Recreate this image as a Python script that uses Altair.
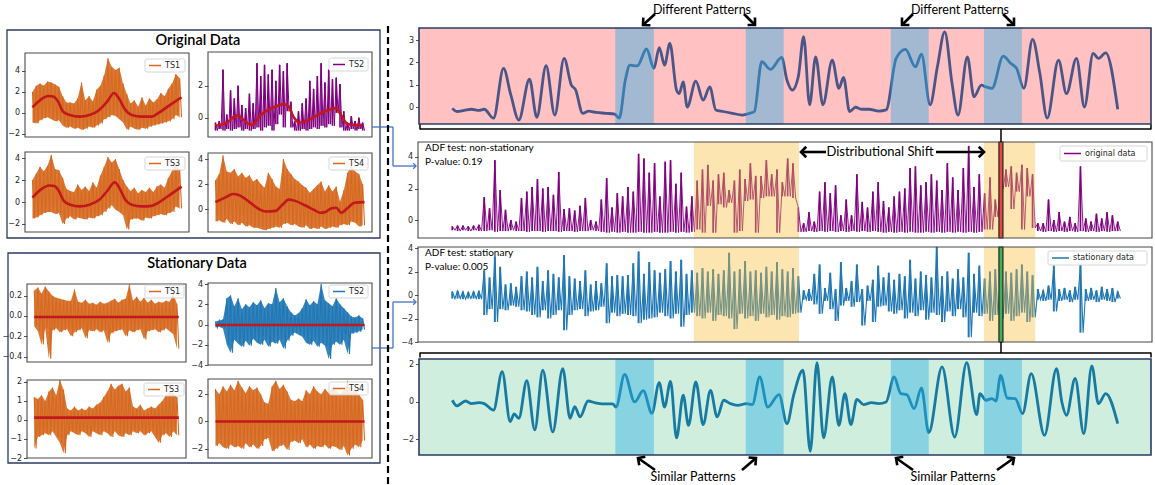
import math
import altair as alt
import pandas as pd

# ---------------------------------------------------------------------------
# Left column: four raw series (upper / lower envelope of the noise, sampled
# alternately) with their smoothed trend, and the same four after differencing.
# ---------------------------------------------------------------------------
ORIG_TS1_HI = [2.0, 2.6, 2.8, 2.6, 3.0, 2.9, 2.7, 2.5, 1.6, 1.0, 1.0, 0.9, 1.4, 2.9, 1.2, 1.6, 1.1, 2.2, 2.6, 3.6,
               5.2, 4.4, 4.1, 4.3, 2.8, 1.8, 0.9, 1.2, 0.6, 1.5, 0.7, 1.4, 1.0, 1.3, 1.9, 1.6, 2.3, 2.8, 3.7, 3.3]
ORIG_TS1_LO = [-0.9, -1.0, -0.7, -0.5, -0.4, -0.6, -0.8, -0.7, -1.2, -1.4, -1.3, -1.5, -1.4, -1.6, -1.5, -1.3, -1.4, -1.2, -1.0, -0.6,
               -0.4, -0.2, -0.3, -0.6, -0.9, -1.6, -1.3, -1.5, -1.6, -1.4, -1.5, -1.3, -1.2, -1.1, -1.0, -0.9, -0.8, -0.6, -0.2, -0.4]
ORIG_TS1_TREND_K = [0, 2.1, 4.2, 5.5, 6.8, 8.1, 9.9, 12.5, 15.1, 17.7, 19.8, 21.6, 22.9, 24.6, 26.3, 28.9, 31.5, 33.2, 35.8, 39.5]
ORIG_TS1_TREND_V = [0.54, 1.24, 1.62, 1.56, 1.08, 0.13, -0.2, -0.35, -0.2, 0.29, 1.08, 1.9, 1.4, 0.29, -0.2, -0.35, -0.35, -0.05, 0.6, 1.5]

ORIG_TS2_HI = [-0.3, -0.2, 3.0, 0.2, 1.7, 1.2, 2.0, 0.8, 0.6, 1.5, 0.9, 3.4, 2.6, 3.3, 2.7, 3.0, 2.3, 3.3, 2.9, 3.4,
               1.0, -0.2, 0.4, 0.9, 1.2, 2.3, 1.8, 2.6, 3.4, 2.2, 3.0, 2.4, 2.5, 2.1, 0.4, -0.3, 0.1, -0.2, 0.0, -0.3]
ORIG_TS2_LO = [-0.8, -0.7, -0.8, -0.7, -0.8, -0.7, -0.6, -0.8, -0.7, -0.8, -0.7, -0.6, -0.8, -0.6, -0.5, -0.8, -0.4, 0.2, -0.6, 0.4,
               -0.6, -0.8, -0.8, -0.7, -0.8, -0.7, -0.6, -0.7, -0.5, -0.6, -0.4, -0.5, 0.3, -0.6, -0.8, -0.8, -0.7, -0.8, -0.7, -0.8]
ORIG_TS2_TREND_K = [0, 3.0, 5.8, 8.5, 9.8, 11.5, 13.3, 15.9, 18.1, 19.4, 20.7, 22.4, 24.6, 27.2, 30.7, 32.0, 33.3, 35.1, 39.0]
ORIG_TS2_TREND_V = [-0.5, -0.3, 0.15, -0.35, -0.45, 0.05, 0.4, 0.7, 0.85, 0.7, 0.05, -0.3, -0.15, 0.2, 0.55, 0.6, 0.15, -0.4, -0.45]

ORIG_TS3_HI = [2.0, 2.6, 3.2, 2.8, 3.3, 4.3, 3.0, 2.9, 2.2, 1.2, 1.0, 0.9, 1.6, 1.1, 1.4, 1.0, 1.8, 1.3, 2.4, 3.2,
               4.1, 3.6, 3.9, 3.0, 2.0, 1.4, 1.0, 1.3, 0.8, 1.1, 0.9, 1.3, 0.9, 1.4, 1.6, 1.3, 2.2, 2.8, 3.5, 3.0]
ORIG_TS3_LO = [-1.5, -1.4, -1.2, -1.0, -0.9, -0.9, -1.1, -1.0, -2.0, -1.5, -1.3, -1.6, -1.4, -1.5, -1.6, -1.4, -1.5, -1.3, -1.2, -0.9,
               -0.6, -0.3, -0.7, -0.9, -1.2, -2.5, -1.6, -1.5, -1.5, -1.7, -1.4, -1.5, -1.3, -1.2, -1.1, -1.2, -1.0, -0.9, -0.4, -0.6]
ORIG_TS3_TREND_K = [0, 2.1, 4.5, 5.8, 7.0, 8.3, 10.0, 12.5, 15.1, 17.7, 19.8, 21.8, 23.0, 24.6, 26.3, 28.9, 31.5, 33.2, 35.8, 39.5]
ORIG_TS3_TREND_V = [0.4, 1.1, 1.5, 1.45, 1.0, 0.1, -0.25, -0.4, -0.25, 0.2, 1.0, 1.8, 1.3, 0.2, -0.25, -0.4, -0.35, -0.1, 0.5, 1.4]

ORIG_TS4_HI = [2.3, 2.8, 4.3, 3.0, 2.9, 3.2, 2.6, 2.9, 2.5, 2.7, 2.2, 2.4, 2.0, 1.7, 2.9, 2.4, 1.8, 1.6, 4.0, 3.2,
               2.8, 2.4, 2.2, 1.9, 1.7, 1.3, 1.6, 1.9, 2.2, 1.4, 1.9, 1.4, 1.8, 0.6, 1.5, 2.9, 3.5, 3.0, 2.8, 2.0]
ORIG_TS4_LO = [-1.0, -0.9, -1.1, -0.8, -1.2, -1.0, -1.3, -1.1, -1.4, -1.3, -1.5, -1.5, -1.6, -1.7, -1.6, -1.5, -1.4, -1.5, -1.2, -1.1,
               -1.3, -1.2, -1.4, -1.5, -1.3, -1.6, -1.5, -1.6, -1.4, -1.6, -1.5, -1.4, -1.5, -1.3, -1.2, -1.3, -1.0, -1.1, -1.4, -1.3]
ORIG_TS4_TREND_K = [0, 2.8, 4.6, 6.3, 9.0, 11.5, 13.3, 15.9, 17.6, 19.4, 21.1, 23.7, 26.3, 27.7, 29.0, 30.7, 32.0, 33.3, 35.1, 36.8, 39.5]
ORIG_TS4_TREND_V = [0.55, 0.95, 1.2, 1.1, 0.55, 0.0, -0.2, -0.15, 0.3, 0.75, 0.65, 0.3, -0.1, -0.3, -0.25, 0.05, 0.1, -0.3, 0.1, 0.5, 0.55]

STAT_TS1_HI = [0.25, 0.28, 0.22, 0.29, 0.24, 0.20, 0.18, 0.17, 0.16, 0.15, 0.15, 0.26, 0.14, 0.13, 0.16, 0.12, 0.13, 0.11, 0.14, 0.12,
               0.13, 0.15, 0.17, 0.13, 0.16, 0.17, 0.31, 0.15, 0.19, 0.14, 0.18, 0.13, 0.16, 0.12, 0.14, 0.13, 0.15, 0.14, 0.22, 0.12]
STAT_TS1_LO = [-0.10, -0.15, -0.28, -0.12, -0.42, -0.14, -0.12, -0.16, -0.14, -0.13, -0.20, -0.16, -0.14, -0.12, -0.22, -0.14, -0.15, -0.13, -0.16, -0.14,
               -0.26, -0.17, -0.15, -0.14, -0.13, -0.20, -0.14, -0.16, -0.14, -0.13, -0.23, -0.15, -0.14, -0.13, -0.16, -0.14, -0.12, -0.15, -0.18, -0.32]
STAT_TS1_MEAN = -0.01

STAT_TS2_HI = [0.3, 0.4, 0.5, 2.6, 2.9, 1.8, 2.6, 1.5, 2.0, 1.7, 2.2, 1.9, 2.4, 1.6, 2.1, 2.0, 3.6, 2.2, 2.6, 1.8,
               1.2, 0.9, 1.1, 1.6, 2.5, 1.9, 2.3, 2.0, 4.0, 2.4, 2.1, 1.8, 2.6, 2.0, 1.6, 1.2, 0.8, 0.7, 0.9, 0.6]
STAT_TS2_LO = [-0.3, -0.2, -0.4, -2.0, -2.8, -1.5, -1.9, -2.2, -1.6, -2.1, -1.4, -1.8, -2.0, -1.5, -2.2, -1.7, -1.9, -1.5, -2.4, -1.6,
               -1.1, -0.8, -1.0, -1.2, -1.8, -2.0, -1.6, -2.2, -1.8, -2.1, -3.4, -2.0, -1.7, -2.0, -1.5, -2.9, -0.9, -0.8, -0.7, -0.5]
STAT_TS2_MEAN = -0.05

STAT_TS3_HI = [1.2, 1.1, 1.3, 1.0, 1.5, 1.7, 1.3, 2.1, 1.6, 0.6, 0.5, 0.7, 0.5, 0.6, 0.5, 0.7, 0.6, 0.8, 0.9, 1.2,
               1.5, 1.9, 1.6, 1.8, 1.9, 1.5, 1.7, 0.7, 0.6, 0.8, 0.5, 0.6, 0.7, 0.6, 0.8, 1.0, 1.3, 1.5, 1.4, 1.2]
STAT_TS3_LO = [-1.5, -0.9, -0.8, -0.7, -0.8, -0.6, -0.9, -1.2, -1.75, -0.8, -0.6, -0.7, -0.8, -0.6, -0.7, -0.9, -0.6, -0.7, -0.8, -0.6,
               -0.7, -0.9, -0.6, -0.8, -0.9, -0.7, -0.8, -0.6, -0.7, -0.6, -0.8, -0.7, -0.6, -0.9, -1.2, -0.8, -0.7, -0.9, -0.6, -0.8]
STAT_TS3_MEAN = 0.12

STAT_TS4_HI = [2.4, 2.0, 2.6, 2.2, 2.7, 2.3, 3.0, 2.5, 2.1, 2.6, 2.3, 2.5, 2.0, 1.4, 1.3, 2.6, 3.0, 2.4, 2.7, 2.2,
               1.6, 1.5, 1.7, 1.5, 2.3, 2.0, 2.6, 2.2, 2.0, 2.4, 2.1, 2.5, 2.2, 2.0, 2.3, 3.0, 2.1, 2.4, 2.0, 1.6]
STAT_TS4_LO = [-1.8, -1.6, -1.9, -2.0, -1.7, -1.9, -1.8, -2.0, -1.6, -1.9, -1.7, -2.0, -1.8, -1.3, -1.2, -2.2, -2.0, -1.8, -1.7, -2.1,
               -1.5, -1.4, -1.6, -1.3, -1.9, -1.7, -2.0, -1.8, -1.9, -1.7, -2.0, -1.8, -1.9, -2.1, -1.8, -2.5, -2.0, -1.7, -1.9, -1.4]
STAT_TS4_MEAN = 0.0

# ---------------------------------------------------------------------------
# Right column: one long series (time steps 0..1000)
# ---------------------------------------------------------------------------
# raw series, envelope pairs every 8 steps
RAW_HI = [-0.4, -0.35, -0.35, -0.4, -0.35, -0.3, 1.45, 0.75, 3.8, 1.9,
          0.65, 0.0, -0.1, 1.4, 1.8, 2.1, 2.6, 2.0, 2.1, 1.6,
          3.05, 0.7, 0.75, 0.6, 0.9, 1.4, 0.0, -0.1, 1.3, 2.65,
          0.8, 1.7, 1.5, 2.1, 1.8, 4.2, 3.9, 3.0, 3.6, 1.5,
          3.7, 3.8, 2.3, 3.0, 0.85, 1.5, 2.5, 3.2, 3.5, 2.5,
          2.9, 3.0, 1.9, 2.5, 3.2, 2.6, 3.6, 2.8, 2.8, 3.8,
          2.9, 3.2, 2.4, 3.9, 3.6, 0.8, -0.2, 0.5, -0.1, 1.8,
          2.4, 1.7, 2.2, 0.3, 1.3, 0.3, 2.9, 1.15, 0.8, 1.8,
          2.4, 1.2, 0.8, 1.5, 1.8, 2.0, 3.3, 3.4, 2.2, 2.4,
          2.9, 2.5, 1.9, 3.6, 2.7, 1.9, 3.3, 4.7, 2.1, 2.9,
          1.7, 2.7, 1.3, 2.7, 3.2, 3.4, 3.0, 3.5, 3.3, 2.9,
          -0.2, -0.2, 1.3, 0.0, 0.5, -0.1, 0.2, -0.2, 3.4, 0.1,
          -0.1, 0.4, 0.1, 0.5, 0.3, -0.1]
RAW_LO = [-0.65, -0.7, -0.65, -0.7, -0.65, -0.7, -0.7, -0.65, -0.75, -0.7,
          -0.7, -0.65, -0.7, -0.7, -0.75, -0.7, -0.7, -0.75, -0.7, -0.7,
          -0.75, -0.7, -0.7, -0.75, -0.7, -0.7, -0.65, -0.7, -0.75, -0.8,
          -0.75, -0.8, -0.75, -0.8, -0.8, -0.75, -0.8, -0.8, -0.75, -0.8,
          -0.8, -0.75, -0.8, -0.75, -0.8, -0.75, -0.6, -0.8, 0.9, -0.8,
          1.0, 0.8, 1.1, -0.8, -0.7, 1.2, 1.3, -0.8, 1.4, 1.5,
          1.5, -0.8, 1.5, 1.5, 1.4, -0.75, -0.75, -0.7, -0.75, -0.7,
          -0.75, -0.7, -0.75, -0.7, -0.75, -0.7, -0.75, -0.7, -0.75, -0.7,
          -0.75, -0.8, -0.75, -0.8, -0.75, -0.8, -0.75, -0.8, -0.8, -0.75,
          -0.8, -0.75, -0.8, -0.75, -0.8, -0.75, -0.8, -0.75, -0.8, -0.75,
          -0.6, -0.6, 0.2, 2.0, 2.1, 0.7, 1.8, -0.6, 1.5, -0.5,
          -0.7, -0.75, -0.7, -0.75, -0.7, -0.75, -0.7, -0.75, -0.7, -0.75,
          -0.7, -0.75, -0.7, -0.75, -0.7, -0.7]

# differenced series, envelope pairs every 8 steps
DIFF_HI = [0.3, 0.35, 0.3, 0.25, 0.3, 0.35, 2.1, 1.5, 3.3, 2.4,
           0.9, 1.0, 0.7, 1.6, 2.0, 1.5, 2.4, 1.2, 2.1, 1.8,
           1.5, 3.4, 1.6, 1.4, 1.2, 2.1, 0.9, 1.2, 1.0, 2.7,
           1.6, 1.7, 1.6, 1.7, 2.7, 3.7, 1.8, 2.8, 2.1, 1.9,
           2.2, 2.9, 2.0, 3.0, 1.8, 2.1, 1.9, 2.3, 2.0, 2.2,
           1.8, 2.1, 3.6, 2.0, 2.2, 2.9, 2.0, 2.1, 1.9, 2.4,
           2.0, 2.8, 2.2, 2.0, 2.3, 1.6, 0.4, 0.5, 1.8, 2.6,
           0.6, 1.9, 0.5, 2.8, 0.6, 1.2, 2.6, 0.5, 0.8, 1.3,
           2.5, 1.5, 1.9, 1.3, 1.8, 1.6, 3.0, 1.4, 2.0, 1.7,
           1.5, 4.1, 1.6, 2.0, 1.4, 2.2, 1.5, 3.6, 1.8, 2.5,
           1.4, 2.0, 2.2, 1.8, 2.0, 1.9, 2.2, 2.6, 2.0, 1.7,
           0.5, 0.4, 0.8, 2.5, 0.5, 0.6, 0.4, 0.7, 2.6, 0.5,
           0.6, 0.4, 0.7, 0.5, 0.6, 0.3]
DIFF_LO = [-0.3, -0.3, -0.35, -0.3, -0.3, -0.35, -1.7, -1.2, -2.3, -1.2,
           -1.3, -0.9, -1.0, -1.3, -1.4, -1.7, -1.9, -1.3, -2.0, -1.7,
           -1.3, -3.0, -1.7, -1.3, -1.2, -1.8, -1.4, -1.3, -1.0, -2.4,
           -1.5, -1.8, -1.6, -1.7, -1.8, -2.4, -2.1, -2.0, -1.9, -1.5,
           -1.8, -2.0, -1.6, -2.7, -1.7, -1.5, -1.8, -2.0, -1.5, -2.2,
           -1.7, -1.8, -2.0, -2.9, -1.6, -2.0, -1.8, -2.2, -1.6, -1.9,
           -1.7, -2.1, -1.8, -1.9, -1.6, -1.5, -0.4, -0.5, -0.8, -1.6,
           -0.5, -1.2, -2.2, -0.9, -0.5, -1.0, -0.6, -2.6, -0.5, -2.3,
           -1.0, -0.9, -1.4, -1.6, -1.3, -2.0, -1.5, -1.8, -1.3, -2.1,
           -1.5, -1.7, -2.3, -1.4, -1.8, -1.2, -1.9, -3.6, -1.5, -1.8,
           -1.6, -2.2, -1.7, -2.0, -1.6, -2.2, -1.8, -1.5, -2.3, -1.9,
           -0.4, -0.5, -0.4, -1.4, -0.5, -0.4, -0.6, -0.4, -3.2, -0.5,
           -0.4, -0.6, -0.4, -0.5, -0.6, -0.3]

# smoothed window view of the raw series
RAW_SMOOTH_T = [0, 7, 18, 29, 40, 48, 62, 77, 88, 100, 116, 127, 141, 154, 168, 179, 185, 196, 205, 216,
                231, 244, 251, 260, 267, 278, 292, 303, 311, 319, 327, 337, 341, 347, 353, 366, 377, 387, 396, 407,
                421, 436, 447, 454, 465, 478, 495, 503, 511, 520, 528, 537, 546, 557, 571, 581, 588, 597, 606, 615,
                626, 641, 652, 667, 681, 696, 705, 718, 729, 740, 751, 760, 774, 784, 795, 802, 811, 828, 839, 848,
                859, 872, 883, 894, 911, 923, 938, 950, 963, 971, 982, 1000]
RAW_SMOOTH_V = [-0.06, -0.2, -0.15, -0.1, -0.15, -0.1, -0.5, 1.73, 0.54, -0.58, 1.25, -0.46, 1.85, -0.36, 2.18, 0.98, 0.79, -0.28, -0.18, -0.24,
                -0.28, -0.32, -0.5, 1.2, 1.88, 1.84, 2.6, 1.73, 2.66, 1.88, 2.85, 0.76, 0.6, 1.13, 0.0, 1.16, 0.31, 0.9, -0.13, -0.2,
                -0.28, -0.36, -0.28, -0.2, 2.03, 1.69, 2.22, 1.2, 0.76, 1.36, 3.15, 0.1, 2.25, 0.1, 2.1, 0.84, 1.33, -0.2, -0.01, -0.1,
                -0.1, -0.18, -0.13, 2.18, 2.58, 1.8, 2.37, 0.1, 1.8, 3.37, 1.06, -0.36, 2.25, 0.46, 0.98, 0.9, 0.84, 2.28, 1.96, 1.73,
                0.84, 3.03, 1.5, -0.5, 2.1, 0.6, 2.18, 0.0, 2.4, 2.18, 2.43, -0.1]

# smoothed window view of the differenced series
DIFF_SMOOTH_T = [0, 7, 20, 29, 40, 48, 62, 75, 87, 93, 100, 112, 124, 136, 151, 166, 177, 184, 192, 204,
                 215, 226, 241, 246, 259, 274, 287, 300, 311, 319, 328, 337, 347, 355, 366, 377, 388, 398, 408, 418,
                 429, 442, 451, 462, 474, 491, 503, 513, 527, 538, 548, 558, 571, 581, 590, 599, 608, 618, 630, 641,
                 652, 664, 674, 683, 694, 705, 716, 736, 755, 773, 788, 793, 802, 811, 817, 824, 834, 846, 857, 870,
                 890, 908, 916, 923, 936, 949, 961, 971, 982, 1000]
DIFF_SMOOTH_V = [0.09, -0.21, 0.05, -0.09, -0.04, -0.09, -0.44, 1.62, -1.05, -0.64, -0.87, 1.13, -1.49, 1.69, -1.6, 1.78, -0.87, -0.25, -0.8, 0.05,
                 -0.05, -0.1, -0.1, -0.27, 1.47, 0.0, 0.6, -0.6, 1.03, -0.27, 1.1, -1.92, 0.36, -1.25, 1.07, -1.21, 0.62, -0.8, 0.09, -0.09,
                 -0.18, -0.09, -0.14, 1.33, -0.27, 0.39, -1.16, 0.36, 1.69, -2.63, 2.1, -1.92, 1.33, -1.25, 0.44, -1.21, 0.14, -0.14, -0.04, -0.09,
                 0.0, 1.33, 0.44, 0.39, -0.36, 0.75, -1.64, 1.87, -1.87, 2.1, -0.68, 0.44, 0.09, 0.18, 0.05, 1.42, 0.21, 0.18, -0.62, 1.51,
                 -1.78, 1.78, 0.0, -0.71, 1.25, -1.69, 1.92, -0.09, 0.44, -1.16]

# highlighted windows (time steps)
WINDOW_START = [245, 441, 659, 799]
WINDOW_END = [303, 498, 716, 856]
SHIFT_START = [363, 799]
SHIFT_END = [521, 876]
CURRENT_START = [821.5]
CURRENT_END = [827.5]

# ---------------------------------------------------------------------------
W, H = 1155, 485
DUMMY = alt.Data(values=[{}])
INK = "#262626"
ORANGE = "#d6691f"
TREND_RED = "#c0181c"
PURPLE = "#800080"
BLUE = "#1f77b4"
CONNECT = "#4472c4"
NAVY = "#2c3b62"
MINUS = "replace(datum.label, '-', '\u2212')"
T_DOMAIN = [-50, 1050]
T_RANGE = [419, 1151]


def y_axis(x0, ticks, fmt="d", size=8):
    return alt.Axis(orient="left", offset=-x0, values=ticks, format=fmt, labelExpr=MINUS,
                    grid=False, domain=False, tickSize=3.5, tickWidth=0.8, tickColor=INK,
                    labelColor=INK, labelFont="DejaVu Sans", labelFontSize=size,
                    labelPadding=2, title=None)


def box(x0, y0, x1, y1, stroke, width=1.0, fill="white", fill_opacity=0.0, radius=0):
    kw = dict(fill=fill, fillOpacity=fill_opacity, stroke=stroke, strokeWidth=width)
    if radius:
        kw["cornerRadius"] = radius
    return alt.Chart(DUMMY).mark_rect(**kw).encode(
        x=alt.value(x0), x2=alt.value(x1), y=alt.value(y0), y2=alt.value(y1))


def fill_box(x0, y0, x1, y1, color):
    return alt.Chart(DUMMY).mark_rect(fill=color, strokeWidth=0).encode(
        x=alt.value(x0), x2=alt.value(x1), y=alt.value(y0), y2=alt.value(y1))


def seg(x0, y0, x1, y1, color="black", width=1.5, dash=None):
    kw = dict(color=color, strokeWidth=width)
    if dash:
        kw["strokeDash"] = dash
    return alt.Chart(DUMMY).mark_rule(**kw).encode(
        x=alt.value(x0), y=alt.value(y0), x2=alt.value(x1), y2=alt.value(y1))


def label(x, y, text, size=10, font="Lato", weight="normal", align="left", color="black"):
    return alt.Chart(DUMMY).mark_text(text=text, font=font, fontSize=size, fontWeight=weight,
                                      align=align, baseline="middle", color=color).encode(
        x=alt.value(x), y=alt.value(y))


CHEVRON = "M-1,-1L0,0L-1,1"


def arrow(x0, y0, x1, y1, color="black", width=2.6, head=110):
    ang = math.degrees(math.atan2(y1 - y0, x1 - x0)) % 360
    tip = alt.Chart(DUMMY).mark_point(shape=CHEVRON, filled=False, color=color, strokeWidth=width,
                                      size=head, angle=ang, opacity=1, strokeJoin="miter").encode(
        x=alt.value(x1), y=alt.value(y1))
    return [seg(x0, y0, x1, y1, color, width), tip]


def legend(x0, y0, x1, y1, color, text, size=8, swatch=12):
    ym = (y0 + y1) / 2
    return [box(x0, y0, x1, y1, "#cccccc", 0.8, "white", 0.85, 2),
            seg(x0 + 4, ym, x0 + 4 + swatch, ym, color, 1.5),
            label(x0 + swatch + 8, ym, text, size, "DejaVu Sans", color=INK)]


def zigzag(hi, lo, step):
    xs, ys = [], []
    for k, (a, b) in enumerate(zip(hi, lo)):
        xs += [k * step, k * step + step / 2]
        ys += [a, b]
    return pd.DataFrame({"x": xs, "y": ys})


def spikes(hi, lo, step):
    return pd.DataFrame({"x": [k * step for k in range(len(hi))], "y": hi, "y2": lo})


def noise_layers(hi, lo, step, color, X, Y, line_w=0.8, rule_w=1.6):
    """Dense noisy trace: thin zig-zag through the envelope plus one spike per sample."""
    return [alt.Chart(zigzag(hi, lo, step)).mark_line(color=color, strokeWidth=line_w).encode(x=X, y=Y),
            alt.Chart(spikes(hi, lo, step)).mark_rule(color=color, strokeWidth=rule_w).encode(x=X, y=Y, y2="y2:Q")]


def small_panel(hi, lo, tk, tv, color, frame, ydom, ticks, fmt="d", filled=True):
    x0, y0, x1, y1 = frame
    span = len(hi) - 0.5
    X = alt.X("x:Q", scale=alt.Scale(domain=[-0.05 * span, 1.05 * span], range=[x0, x1], nice=False, zero=False), axis=None)
    Y = alt.Y("y:Q", scale=alt.Scale(domain=ydom, range=[y1, y0], nice=False, zero=False), axis=y_axis(x0, ticks, fmt))
    parts = []
    if filled:
        parts.append(alt.Chart(spikes(hi, lo, 1)).mark_area(color=color, opacity=0.9).encode(x=X, y=Y, y2="y2:Q"))
        parts.append(alt.Chart(zigzag(hi, lo, 1)).mark_line(color=color, strokeWidth=1.1).encode(x=X, y=Y))
    else:
        parts += noise_layers(hi, lo, 1, color, X, Y, 1.0, 1.6)
    parts.append(alt.Chart(pd.DataFrame({"x": tk, "y": tv})).mark_line(
        color=TREND_RED, strokeWidth=2.6, interpolate="monotone").encode(x=X, y=Y))
    return [alt.layer(*parts), box(x0, y0, x1, y1, "#4a4a4a", 1.1)]


def t_x(field="x"):
    return alt.X(f"{field}:Q", scale=alt.Scale(domain=T_DOMAIN, range=T_RANGE, nice=False, zero=False), axis=None)


def pattern_panel(tt, vv, bg, line_color, frame, ydom, ticks):
    x0, y0, x1, y1 = frame
    Y = alt.Y("y:Q", scale=alt.Scale(domain=ydom, range=[y1, y0], nice=False, zero=False), axis=y_axis(x0, ticks))
    line = alt.Chart(pd.DataFrame({"x": tt, "y": vv})).mark_line(
        color=line_color, strokeWidth=2.8, interpolate="monotone").encode(x=t_x(), y=Y)
    windows = alt.Chart(pd.DataFrame({"x": WINDOW_START, "x2": WINDOW_END})).mark_rect(
        color="#24ade6", opacity=0.42).encode(x=t_x(), x2="x2:Q", y=alt.value(y0), y2=alt.value(y1))
    return [fill_box(x0, y0, x1, y1, bg), alt.layer(line, windows), box(x0, y0, x1, y1, NAVY, 1.6)]


def adf_panel(hi, lo, color, frame, ydom, ticks, marker_fill, line_w, rule_w):
    x0, y0, x1, y1 = frame
    Y = alt.Y("y:Q", scale=alt.Scale(domain=ydom, range=[y1, y0], nice=False, zero=False), axis=y_axis(x0, ticks))
    trace = noise_layers(hi, lo, 8, color, t_x(), Y, line_w, rule_w)
    shift = alt.Chart(pd.DataFrame({"x": SHIFT_START, "x2": SHIFT_END})).mark_rect(
        color="#fabe3c", opacity=0.4).encode(x=t_x(), x2="x2:Q", y=alt.value(y0), y2=alt.value(y1))
    marker = alt.Chart(pd.DataFrame({"x": CURRENT_START, "x2": CURRENT_END})).mark_rect(
        fill=marker_fill, stroke="#222222", strokeWidth=1.2).encode(
        x=t_x(), x2="x2:Q", y=alt.value(y0), y2=alt.value(y1))
    return [alt.layer(*trace, shift, marker), box(x0, y0, x1, y1, "#4a4a4a", 1.1)]


layers = []

# ---- left column -----------------------------------------------------------
layers.append(box(7, 30, 380, 238, NAVY, 1.3))
layers.append(box(8, 253, 380, 463, NAVY, 1.3))
layers.append(label(198, 41, "Original Data", 14.5, weight=600, align="center"))
layers.append(label(197, 264, "Stationary Data", 14.5, weight=600, align="center"))

layers += small_panel(ORIG_TS1_HI, ORIG_TS1_LO, ORIG_TS1_TREND_K, ORIG_TS1_TREND_V, ORANGE,
                      (25, 53, 189, 137), [-2.29, 5.71], [-2, 0, 2, 4])
layers += small_panel(ORIG_TS2_HI, ORIG_TS2_LO, ORIG_TS2_TREND_K, ORIG_TS2_TREND_V, PURPLE,
                      (208, 52, 372, 137), [-1.2, 4.1], [0, 2], filled=False)
layers += small_panel(ORIG_TS3_HI, ORIG_TS3_LO, ORIG_TS3_TREND_K, ORIG_TS3_TREND_V, ORANGE,
                      (25, 152, 189, 232), [-2.73, 4.55], [-2, 0, 2, 4])
layers += small_panel(ORIG_TS4_HI, ORIG_TS4_LO, ORIG_TS4_TREND_K, ORIG_TS4_TREND_V, ORANGE,
                      (208, 153, 372, 232), [-1.84, 4.48], [0, 2, 4])

ends = [0, 39.5]
layers += small_panel(STAT_TS1_HI, STAT_TS1_LO, ends, [STAT_TS1_MEAN] * 2, ORANGE,
                      (27, 284, 186, 362), [-0.453, 0.315], [-0.4, -0.2, 0.0, 0.2], ".1f")
layers += small_panel(STAT_TS2_HI, STAT_TS2_LO, ends, [STAT_TS2_MEAN] * 2, BLUE,
                      (208, 283, 372, 365), [-4.0, 4.1], [-4, -2, 0, 2, 4])
layers += small_panel(STAT_TS3_HI, STAT_TS3_LO, ends, [STAT_TS3_MEAN] * 2, ORANGE,
                      (27, 380, 186, 458), [-2.0, 2.1], [-2, -1, 0, 1, 2])
layers += small_panel(STAT_TS4_HI, STAT_TS4_LO, ends, [STAT_TS4_MEAN] * 2, ORANGE,
                      (208, 379, 372, 458), [-2.69, 3.13], [-2, 0, 2])

layers += legend(145, 59, 185, 72, ORANGE, "TS1")
layers += legend(329, 58, 368, 71, PURPLE, "TS2")
layers += legend(145, 157, 185, 170, ORANGE, "TS3")
layers += legend(329, 157, 368, 170, ORANGE, "TS4")
layers += legend(145, 285, 184, 298, ORANGE, "TS1")
layers += legend(329, 285, 368, 298, BLUE, "TS2")
layers += legend(144, 383, 184, 396, ORANGE, "TS3")
layers += legend(329, 382, 368, 395, ORANGE, "TS4")

# ---- right column ----------------------------------------------------------
layers += pattern_panel(RAW_SMOOTH_T, RAW_SMOOTH_V, "#ffc1c1", "#4a5688",
                        (419, 28, 1151, 124), [-0.76, 3.54], [0, 1, 2, 3])
layers += adf_panel(RAW_HI, RAW_LO, PURPLE, (418, 142, 1152, 238), [-1.14, 4.95], [0, 2, 4], "#e8473d", 0.9, 1.7)
layers += adf_panel(DIFF_HI, DIFF_LO, BLUE, (418, 247, 1152, 342), [-4.0, 4.09], [-4, -2, 0, 2, 4], "#3cb35b", 1.1, 2.0)
layers += pattern_panel(DIFF_SMOOTH_T, DIFF_SMOOTH_V, "#cfeedd", "#177aa2",
                        (419, 359, 1151, 455), [-2.83, 2.29], [-2, 0, 2])

layers.append(label(425, 148, "ADF test: non-stationary", 10))
layers.append(label(425, 162, "P-value: 0.19", 10))
layers.append(label(425, 253, "ADF test: stationary", 10))
layers.append(label(425, 267, "P-value: 0.005", 10))
layers += legend(1060, 146, 1147, 161, PURPLE, "original data", 8, 17)
layers += legend(1048, 251, 1147, 265, BLUE, "stationary data", 8, 17)

# brackets linking the window to the detailed views
layers += [seg(420, 129, 1151, 129), seg(420, 124.5, 420, 129.5), seg(1151, 124.5, 1151, 129.5),
           seg(1001, 129, 1001, 142)]
layers += [seg(420, 353, 1151, 353), seg(420, 352.5, 420, 357.5), seg(1151, 352.5, 1151, 357.5),
           seg(1001, 342, 1001, 353)]

# connectors from the left column
layers += [seg(372, 127, 393, 127, CONNECT, 1.3), seg(393, 127, 393, 166, CONNECT, 1.3)]
layers += arrow(393, 166, 416, 166, CONNECT, 1.3, 30)
layers += [seg(372, 348, 393, 348, CONNECT, 1.3), seg(393, 348, 393, 302, CONNECT, 1.3)]
layers += arrow(393, 302, 416, 302, CONNECT, 1.3, 30)

# column separator
layers.append(seg(388, 26, 388, 485, "black", 2.2, [7, 4]))

# annotations
layers.append(label(702, 10, "Different Patterns", 12.5, align="center"))
layers.append(label(960, 10, "Different Patterns", 12.5, align="center"))
layers += arrow(655, 14, 643, 25) + arrow(744, 14, 755, 25)
layers += arrow(913, 14, 902, 25) + arrow(1003, 14, 1014, 25)

layers.append(label(880, 152, "Distributional Shift", 13, align="center"))
layers += arrow(826, 152, 801, 152) + arrow(936, 152, 984, 152)

layers.append(label(693, 477, "Similar Patterns", 12.5, align="center"))
layers.append(label(953, 477, "Similar Patterns", 12.5, align="center"))
layers += arrow(655, 470, 638, 458) + arrow(742, 470, 756, 458)
layers += arrow(913, 470, 896, 458) + arrow(997, 470, 1014, 458)

chart = alt.layer(*layers).resolve_scale(x="independent", y="independent").properties(
    width=W, height=H, padding=0, background="white",
    autosize=alt.AutoSizeParams(type="none"),
).configure_view(strokeWidth=0)

chart.save("out.html", embed_options={"renderer": "svg", "actions": False})
